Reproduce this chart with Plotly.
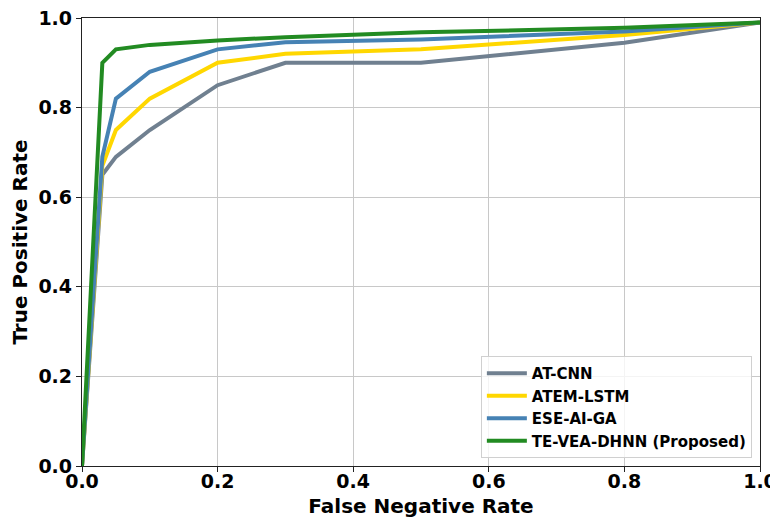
import plotly.graph_objects as go

fnr = [0.0, 0.03, 0.05, 0.1, 0.2, 0.3, 0.5, 0.8, 1.0]
at_cnn = [0.0, 0.65, 0.69, 0.75, 0.85, 0.90, 0.90, 0.945, 0.99]
atem_lstm = [0.0, 0.67, 0.75, 0.82, 0.90, 0.92, 0.93, 0.962, 0.99]
ese_ai_ga = [0.0, 0.69, 0.82, 0.88, 0.93, 0.946, 0.952, 0.97, 0.99]
te_vea_dhnn = [0.0, 0.90, 0.93, 0.94, 0.95, 0.957, 0.968, 0.978, 0.99]
tick_vals = [0.0, 0.2, 0.4, 0.6, 0.8, 1.0]
tick_text = ["0.0", "0.2", "0.4", "0.6", "0.8", "1.0"]

series = [
    ("AT-CNN", at_cnn, "#708090"),
    ("ATEM-LSTM", atem_lstm, "#FFD700"),
    ("ESE-AI-GA", ese_ai_ga, "#4682B4"),
    ("TE-VEA-DHNN (Proposed)", te_vea_dhnn, "#228B22"),
]

fig = go.Figure()
for name, ys, color in series:
    fig.add_trace(go.Scatter(x=fnr, y=ys, mode="lines", name=name,
                             line=dict(color=color, width=4)))

font_family = "DejaVu Sans"
axis_common = dict(
    showgrid=True, gridcolor="#c8c8c8", gridwidth=1,
    showline=True, linecolor="#222222", linewidth=1.3, mirror=True,
    ticks="outside", ticklen=5, tickwidth=1.3, tickcolor="#222222",
    tickfont=dict(family=font_family, size=19, color="black", weight="bold"),
    zeroline=False, automargin=False, ticklabeloverflow="allow",
    range=[0, 1], tickvals=tick_vals, ticktext=tick_text,
)

# page body has an 8px default offset, margins compensate for it
fig.update_layout(
    width=778, height=517,
    margin=dict(l=74, r=26, t=10, b=59),
    paper_bgcolor="white", plot_bgcolor="white",
    font=dict(family=font_family, color="black"),
    xaxis=dict(title=dict(text="False Negative Rate", standoff=8,
                          font=dict(family=font_family, size=20, color="black", weight="bold")),
               ticklabelstandoff=-7,
               **axis_common),
    yaxis=dict(title=dict(text="True Positive Rate", standoff=5,
                          font=dict(family=font_family, size=20, color="black", weight="bold")),
               **axis_common),
    legend=dict(x=0.988, y=0.018, xanchor="right", yanchor="bottom",
                bgcolor="rgba(255,255,255,0.8)", bordercolor="#d0d0d0", borderwidth=1,
                font=dict(family=font_family, size=15, color="black", weight="bold"),
                itemwidth=40, tracegroupgap=0),
    showlegend=True,
)

fig.write_html("out.html")
